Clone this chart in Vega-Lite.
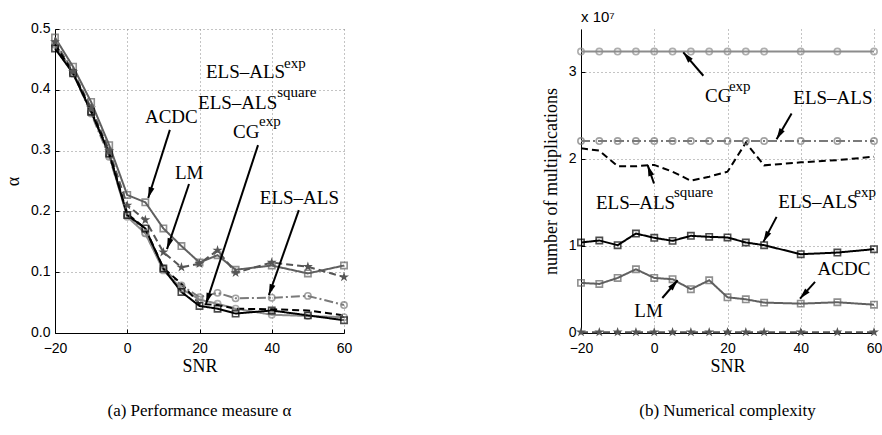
{
  "$schema": "https://vega.github.io/schema/vega-lite/v6.json",
  "padding": {"left": 4, "top": 10, "right": 5, "bottom": 5},
  "background": "white",
  "config": {
    "view": {"stroke": null},
    "axis": {
      "labelFont": "Liberation Sans", "labelFontSize": 14, "labelColor": "black", "labelFlush": false,
      "titleFont": "Liberation Serif", "titleFontSize": 18, "titleFontWeight": "normal", "titleColor": "black",
      "domainColor": "black", "domainWidth": 1,
      "ticks": true, "tickSize": -4, "tickColor": "black", "labelPadding": 9,
      "gridColor": "#888888", "gridDash": [1, 3], "gridWidth": 1, "gridOpacity": 1
    },
    "axisX": {"labelPadding": 12},
    "axisY": {"labelOffset": -1},
    "title": {"font": "Liberation Serif", "fontSize": 17, "fontWeight": "normal", "color": "black"}
  },
  "datasets": {
    "alpha": [
      {"series": "ACDC", "snr": -20, "val": 0.486}, {"series": "ACDC", "snr": -15, "val": 0.438}, {"series": "ACDC", "snr": -10, "val": 0.380}, {"series": "ACDC", "snr": -5, "val": 0.309}, {"series": "ACDC", "snr": 0, "val": 0.227}, {"series": "ACDC", "snr": 5, "val": 0.215}, {"series": "ACDC", "snr": 10, "val": 0.172}, {"series": "ACDC", "snr": 15, "val": 0.143}, {"series": "ACDC", "snr": 20, "val": 0.116}, {"series": "ACDC", "snr": 25, "val": 0.128}, {"series": "ACDC", "snr": 30, "val": 0.104}, {"series": "ACDC", "snr": 40, "val": 0.111}, {"series": "ACDC", "snr": 50, "val": 0.098}, {"series": "ACDC", "snr": 60, "val": 0.111},
      {"series": "LM", "snr": -20, "val": 0.479}, {"series": "LM", "snr": -15, "val": 0.430}, {"series": "LM", "snr": -10, "val": 0.370}, {"series": "LM", "snr": -5, "val": 0.300}, {"series": "LM", "snr": 0, "val": 0.210}, {"series": "LM", "snr": 5, "val": 0.186}, {"series": "LM", "snr": 10, "val": 0.133}, {"series": "LM", "snr": 15, "val": 0.108}, {"series": "LM", "snr": 20, "val": 0.114}, {"series": "LM", "snr": 25, "val": 0.136}, {"series": "LM", "snr": 30, "val": 0.099}, {"series": "LM", "snr": 40, "val": 0.116}, {"series": "LM", "snr": 50, "val": 0.109}, {"series": "LM", "snr": 60, "val": 0.092},
      {"series": "ELS-ALS", "snr": -20, "val": 0.476}, {"series": "ELS-ALS", "snr": -15, "val": 0.427}, {"series": "ELS-ALS", "snr": -10, "val": 0.361}, {"series": "ELS-ALS", "snr": -5, "val": 0.290}, {"series": "ELS-ALS", "snr": 0, "val": 0.194}, {"series": "ELS-ALS", "snr": 5, "val": 0.164}, {"series": "ELS-ALS", "snr": 10, "val": 0.106}, {"series": "ELS-ALS", "snr": 15, "val": 0.078}, {"series": "ELS-ALS", "snr": 20, "val": 0.059}, {"series": "ELS-ALS", "snr": 25, "val": 0.066}, {"series": "ELS-ALS", "snr": 30, "val": 0.057}, {"series": "ELS-ALS", "snr": 40, "val": 0.058}, {"series": "ELS-ALS", "snr": 50, "val": 0.061}, {"series": "ELS-ALS", "snr": 60, "val": 0.046},
      {"series": "CG-exp", "snr": -20, "val": 0.474}, {"series": "CG-exp", "snr": -15, "val": 0.427}, {"series": "CG-exp", "snr": -10, "val": 0.364}, {"series": "CG-exp", "snr": -5, "val": 0.293}, {"series": "CG-exp", "snr": 0, "val": 0.191}, {"series": "CG-exp", "snr": 5, "val": 0.164}, {"series": "CG-exp", "snr": 10, "val": 0.103}, {"series": "CG-exp", "snr": 15, "val": 0.073}, {"series": "CG-exp", "snr": 20, "val": 0.055}, {"series": "CG-exp", "snr": 25, "val": 0.048}, {"series": "CG-exp", "snr": 30, "val": 0.040}, {"series": "CG-exp", "snr": 40, "val": 0.030}, {"series": "CG-exp", "snr": 50, "val": 0.028}, {"series": "CG-exp", "snr": 60, "val": 0.026},
      {"series": "ELS-ALS-square", "snr": -20, "val": 0.475}, {"series": "ELS-ALS-square", "snr": -15, "val": 0.428}, {"series": "ELS-ALS-square", "snr": -10, "val": 0.366}, {"series": "ELS-ALS-square", "snr": -5, "val": 0.296}, {"series": "ELS-ALS-square", "snr": 0, "val": 0.196}, {"series": "ELS-ALS-square", "snr": 5, "val": 0.172}, {"series": "ELS-ALS-square", "snr": 10, "val": 0.107}, {"series": "ELS-ALS-square", "snr": 15, "val": 0.081}, {"series": "ELS-ALS-square", "snr": 20, "val": 0.048}, {"series": "ELS-ALS-square", "snr": 25, "val": 0.046}, {"series": "ELS-ALS-square", "snr": 30, "val": 0.040}, {"series": "ELS-ALS-square", "snr": 40, "val": 0.039}, {"series": "ELS-ALS-square", "snr": 50, "val": 0.037}, {"series": "ELS-ALS-square", "snr": 60, "val": 0.029},
      {"series": "ELS-ALS-exp", "snr": -20, "val": 0.468}, {"series": "ELS-ALS-exp", "snr": -15, "val": 0.427}, {"series": "ELS-ALS-exp", "snr": -10, "val": 0.364}, {"series": "ELS-ALS-exp", "snr": -5, "val": 0.295}, {"series": "ELS-ALS-exp", "snr": 0, "val": 0.194}, {"series": "ELS-ALS-exp", "snr": 5, "val": 0.172}, {"series": "ELS-ALS-exp", "snr": 10, "val": 0.106}, {"series": "ELS-ALS-exp", "snr": 15, "val": 0.0675}, {"series": "ELS-ALS-exp", "snr": 20, "val": 0.0445}, {"series": "ELS-ALS-exp", "snr": 25, "val": 0.040}, {"series": "ELS-ALS-exp", "snr": 30, "val": 0.032}, {"series": "ELS-ALS-exp", "snr": 40, "val": 0.037}, {"series": "ELS-ALS-exp", "snr": 50, "val": 0.029}, {"series": "ELS-ALS-exp", "snr": 60, "val": 0.021}
    ],
    "mult": [
      {"series": "CG-exp", "snr": -20, "val": 32400000}, {"series": "CG-exp", "snr": -15, "val": 32400000}, {"series": "CG-exp", "snr": -10, "val": 32400000}, {"series": "CG-exp", "snr": -5, "val": 32400000}, {"series": "CG-exp", "snr": 0, "val": 32400000}, {"series": "CG-exp", "snr": 5, "val": 32400000}, {"series": "CG-exp", "snr": 10, "val": 32400000}, {"series": "CG-exp", "snr": 15, "val": 32400000}, {"series": "CG-exp", "snr": 20, "val": 32400000}, {"series": "CG-exp", "snr": 25, "val": 32400000}, {"series": "CG-exp", "snr": 30, "val": 32400000}, {"series": "CG-exp", "snr": 40, "val": 32400000}, {"series": "CG-exp", "snr": 50, "val": 32400000}, {"series": "CG-exp", "snr": 60, "val": 32400000},
      {"series": "ELS-ALS", "snr": -20, "val": 22100000}, {"series": "ELS-ALS", "snr": -15, "val": 22100000}, {"series": "ELS-ALS", "snr": -10, "val": 22100000}, {"series": "ELS-ALS", "snr": -5, "val": 22100000}, {"series": "ELS-ALS", "snr": 0, "val": 22100000}, {"series": "ELS-ALS", "snr": 5, "val": 22100000}, {"series": "ELS-ALS", "snr": 10, "val": 22100000}, {"series": "ELS-ALS", "snr": 15, "val": 22100000}, {"series": "ELS-ALS", "snr": 20, "val": 22100000}, {"series": "ELS-ALS", "snr": 25, "val": 22100000}, {"series": "ELS-ALS", "snr": 30, "val": 22100000}, {"series": "ELS-ALS", "snr": 40, "val": 22100000}, {"series": "ELS-ALS", "snr": 50, "val": 22100000}, {"series": "ELS-ALS", "snr": 60, "val": 22100000},
      {"series": "ELS-ALS-square", "snr": -20, "val": 21260000}, {"series": "ELS-ALS-square", "snr": -15, "val": 21000000}, {"series": "ELS-ALS-square", "snr": -10, "val": 19200000}, {"series": "ELS-ALS-square", "snr": -5, "val": 19200000}, {"series": "ELS-ALS-square", "snr": 0, "val": 19350000}, {"series": "ELS-ALS-square", "snr": 5, "val": 18570000}, {"series": "ELS-ALS-square", "snr": 10, "val": 17530000}, {"series": "ELS-ALS-square", "snr": 15, "val": 18000000}, {"series": "ELS-ALS-square", "snr": 20, "val": 18570000}, {"series": "ELS-ALS-square", "snr": 25, "val": 21900000}, {"series": "ELS-ALS-square", "snr": 30, "val": 19300000}, {"series": "ELS-ALS-square", "snr": 40, "val": 19650000}, {"series": "ELS-ALS-square", "snr": 50, "val": 19900000}, {"series": "ELS-ALS-square", "snr": 60, "val": 20300000},
      {"series": "ELS-ALS-exp", "snr": -20, "val": 10420000}, {"series": "ELS-ALS-exp", "snr": -15, "val": 10650000}, {"series": "ELS-ALS-exp", "snr": -10, "val": 10110000}, {"series": "ELS-ALS-exp", "snr": -5, "val": 11450000}, {"series": "ELS-ALS-exp", "snr": 0, "val": 10960000}, {"series": "ELS-ALS-exp", "snr": 5, "val": 10610000}, {"series": "ELS-ALS-exp", "snr": 10, "val": 11190000}, {"series": "ELS-ALS-exp", "snr": 15, "val": 11070000}, {"series": "ELS-ALS-exp", "snr": 20, "val": 11000000}, {"series": "ELS-ALS-exp", "snr": 25, "val": 10420000}, {"series": "ELS-ALS-exp", "snr": 30, "val": 10110000}, {"series": "ELS-ALS-exp", "snr": 40, "val": 9070000}, {"series": "ELS-ALS-exp", "snr": 50, "val": 9260000}, {"series": "ELS-ALS-exp", "snr": 60, "val": 9650000},
      {"series": "ACDC", "snr": -20, "val": 5770000}, {"series": "ACDC", "snr": -15, "val": 5650000}, {"series": "ACDC", "snr": -10, "val": 6340000}, {"series": "ACDC", "snr": -5, "val": 7340000}, {"series": "ACDC", "snr": 0, "val": 6340000}, {"series": "ACDC", "snr": 5, "val": 6190000}, {"series": "ACDC", "snr": 10, "val": 5040000}, {"series": "ACDC", "snr": 15, "val": 6070000}, {"series": "ACDC", "snr": 20, "val": 4110000}, {"series": "ACDC", "snr": 25, "val": 3880000}, {"series": "ACDC", "snr": 30, "val": 3500000}, {"series": "ACDC", "snr": 40, "val": 3380000}, {"series": "ACDC", "snr": 50, "val": 3540000}, {"series": "ACDC", "snr": 60, "val": 3260000},
      {"series": "LM", "snr": -20, "val": 100000}, {"series": "LM", "snr": -15, "val": 100000}, {"series": "LM", "snr": -10, "val": 100000}, {"series": "LM", "snr": -5, "val": 100000}, {"series": "LM", "snr": 0, "val": 100000}, {"series": "LM", "snr": 5, "val": 100000}, {"series": "LM", "snr": 10, "val": 100000}, {"series": "LM", "snr": 15, "val": 100000}, {"series": "LM", "snr": 20, "val": 100000}, {"series": "LM", "snr": 25, "val": 100000}, {"series": "LM", "snr": 30, "val": 100000}, {"series": "LM", "snr": 40, "val": 100000}, {"series": "LM", "snr": 50, "val": 100000}, {"series": "LM", "snr": 60, "val": 100000}
    ],
    "alphaLabels": [
      {"snr": 21.8, "val": 0.419, "text": "ELS–ALS"},
      {"snr": 19.6, "val": 0.369, "text": "ELS–ALS"},
      {"snr": 4.9, "val": 0.345, "text": "ACDC"},
      {"snr": 29.3, "val": 0.320, "text": "CG"},
      {"snr": 13.2, "val": 0.253, "text": "LM"},
      {"snr": 36.7, "val": 0.212, "text": "ELS–ALS"}
    ],
    "alphaSups": [
      {"snr": 43.4, "val": 0.436, "text": "exp"},
      {"snr": 41.5, "val": 0.388, "text": "square"},
      {"snr": 36.5, "val": 0.340, "text": "exp"}
    ],
    "alphaArrows": [
      {"snr": 5.8, "val": 0.222, "snr2": 11.8, "val2": 0.334},
      {"snr": 11.0, "val": 0.138, "snr2": 17.1, "val2": 0.245},
      {"snr": 21.8, "val": 0.048, "snr2": 36.2, "val2": 0.309},
      {"snr": 39.2, "val": 0.0625, "snr2": 47.5, "val2": 0.202}
    ],
    "multLabels": [
      {"snr": 13.85, "val": 26550000, "text": "CG"},
      {"snr": 37.96, "val": 26320000, "text": "ELS–ALS"},
      {"snr": -15.9, "val": 14250000, "text": "ELS–ALS"},
      {"snr": 33.87, "val": 14410000, "text": "ELS–ALS"},
      {"snr": 44.6, "val": 6650000, "text": "ACDC"},
      {"snr": -5.44, "val": 1840000, "text": "LM"}
    ],
    "multSups": [
      {"snr": 20.4, "val": 27850000, "text": "exp"},
      {"snr": 5.39, "val": 15670000, "text": "square"},
      {"snr": 54.6, "val": 15670000, "text": "exp"}
    ],
    "multExp": [
      {"snr": -20, "val": 35800000, "text": "x 10⁷"}
    ],
    "multArrows": [
      {"snr": 7.93, "val": 32310000, "snr2": 13.4, "val2": 29620000},
      {"snr": 33.4, "val": 22320000, "snr2": 37.5, "val2": 25280000},
      {"snr": -1.8, "val": 19320000, "snr2": -0.07, "val2": 17210000},
      {"snr": 29.8, "val": 10490000, "snr2": 33.4, "val2": 13370000},
      {"snr": 39.8, "val": 3960000, "snr2": 43.9, "val2": 5880000},
      {"snr": 6.39, "val": 6070000, "snr2": 2.2, "val2": 4030000}
    ]
  },
  "hconcat": [
    {
      "width": 289,
      "height": 304,
      "title": {"text": "(a) Performance measure α", "orient": "bottom", "offset": 28},
      "encoding": {
        "x": {"field": "snr", "type": "quantitative", "scale": {"domain": [-20, 60], "nice": false, "zero": false},
              "axis": {"values": [-20, 0, 20, 40, 60], "title": "SNR", "titlePadding": 2}},
        "y": {"field": "val", "type": "quantitative", "scale": {"domain": [0, 0.5], "nice": false},
              "axis": {"values": [0, 0.1, 0.2, 0.3, 0.4, 0.5], "title": "α", "titlePadding": 8}}
      },
      "layer": [
        {
          "data": {"name": "alpha"},
          "mark": {"type": "line", "strokeWidth": 2},
          "encoding": {
            "color": {"field": "series", "type": "nominal", "legend": null,
                      "scale": {"domain": ["ACDC", "LM", "ELS-ALS", "CG-exp", "ELS-ALS-square", "ELS-ALS-exp"],
                                "range": ["#606060", "#555555", "#7a7a7a", "#8c8c8c", "#000000", "#000000"]}},
            "strokeDash": {"field": "series", "type": "nominal", "legend": null,
                      "scale": {"domain": ["ACDC", "LM", "ELS-ALS", "CG-exp", "ELS-ALS-square", "ELS-ALS-exp"],
                                "range": [[1, 0], [7, 4], [9, 3, 2, 3], [1, 0], [7, 4], [1, 0]]}}
          }
        },
        {
          "data": {"name": "alpha"},
          "transform": [{"filter": "datum.series !== 'LM' && datum.series !== 'ELS-ALS-square'"}],
          "mark": {"type": "point", "filled": false, "strokeWidth": 1.6, "size": 40},
          "encoding": {
            "color": {"field": "series", "type": "nominal", "legend": null},
            "shape": {"field": "series", "type": "nominal", "legend": null,
                      "scale": {"domain": ["ACDC", "ELS-ALS", "CG-exp", "ELS-ALS-exp"],
                                "range": ["square", "circle", "circle", "square"]}}
          }
        },
        {
          "data": {"name": "alpha"},
          "transform": [{"filter": "datum.series === 'LM'"}],
          "mark": {"type": "point", "filled": true, "color": "#555555", "size": 110, "opacity": 1,
                   "shape": "M0,-1L0.225,-0.309L0.951,-0.309L0.363,0.118L0.588,0.809L0,0.382L-0.588,0.809L-0.363,0.118L-0.951,-0.309L-0.225,-0.309Z"}
        },
        {
          "data": {"name": "alphaArrows"},
          "mark": {"type": "rule", "color": "black", "strokeWidth": 2},
          "encoding": {
            "x2": {"field": "snr2"},
            "y2": {"field": "val2"}
          }
        },
        {
          "data": {"name": "alphaArrows"},
          "transform": [{"calculate": "atan2((datum.snr - datum.snr2) * 3.6125, (datum.val - datum.val2) * 608) * 180 / PI", "as": "ang"}],
          "mark": {"type": "point", "filled": true, "color": "black", "opacity": 1, "size": 100,
                   "shape": "M0,0L0.6,2.2L-0.6,2.2Z"},
          "encoding": {"angle": {"field": "ang", "type": "quantitative", "scale": null}}
        },
        {
          "data": {"name": "alphaLabels"},
          "mark": {"type": "text", "font": "Liberation Serif", "fontSize": 19, "align": "left", "baseline": "alphabetic", "color": "black"},
          "encoding": {"text": {"field": "text"}}
        },
        {
          "data": {"name": "alphaSups"},
          "mark": {"type": "text", "font": "Liberation Serif", "fontSize": 15, "align": "left", "baseline": "alphabetic", "color": "black"},
          "encoding": {"text": {"field": "text"}}
        }
      ]
    },
    {
      "width": 293,
      "height": 304,
      "title": {"text": "(b) Numerical complexity", "orient": "bottom", "offset": 28},
      "encoding": {
        "x": {"field": "snr", "type": "quantitative", "scale": {"domain": [-20, 60], "nice": false, "zero": false},
              "axis": {"values": [-20, 0, 20, 40, 60], "title": "SNR", "titlePadding": 2}},
        "y": {"field": "val", "type": "quantitative", "scale": {"domain": [0, 35000000], "nice": false},
              "axis": {"values": [0, 10000000, 20000000, 30000000], "labelExpr": "format(datum.value / 10000000, 'd')", "title": "number of multiplications", "titlePadding": 8}}
      },
      "layer": [
        {
          "data": {"name": "mult"},
          "mark": {"type": "line", "strokeWidth": 2},
          "encoding": {
            "color": {"field": "series", "type": "nominal", "legend": null,
                      "scale": {"domain": ["ACDC", "LM", "ELS-ALS", "CG-exp", "ELS-ALS-square", "ELS-ALS-exp"],
                                "range": ["#606060", "#555555", "#7a7a7a", "#8c8c8c", "#000000", "#000000"]}},
            "strokeDash": {"field": "series", "type": "nominal", "legend": null,
                      "scale": {"domain": ["ACDC", "LM", "ELS-ALS", "CG-exp", "ELS-ALS-square", "ELS-ALS-exp"],
                                "range": [[1, 0], [7, 4], [9, 3, 2, 3], [1, 0], [7, 4], [1, 0]]}}
          }
        },
        {
          "data": {"name": "mult"},
          "transform": [{"filter": "datum.series !== 'LM' && datum.series !== 'ELS-ALS-square'"}],
          "mark": {"type": "point", "filled": false, "strokeWidth": 1.6, "size": 40},
          "encoding": {
            "color": {"field": "series", "type": "nominal", "legend": null},
            "shape": {"field": "series", "type": "nominal", "legend": null,
                      "scale": {"domain": ["ACDC", "ELS-ALS", "CG-exp", "ELS-ALS-exp"],
                                "range": ["square", "circle", "circle", "square"]}}
          }
        },
        {
          "data": {"name": "mult"},
          "transform": [{"filter": "datum.series === 'LM'"}],
          "mark": {"type": "point", "filled": true, "color": "#555555", "size": 110, "opacity": 1,
                   "shape": "M0,-1L0.225,-0.309L0.951,-0.309L0.363,0.118L0.588,0.809L0,0.382L-0.588,0.809L-0.363,0.118L-0.951,-0.309L-0.225,-0.309Z"}
        },
        {
          "data": {"name": "multArrows"},
          "mark": {"type": "rule", "color": "black", "strokeWidth": 2},
          "encoding": {
            "x2": {"field": "snr2"},
            "y2": {"field": "val2"}
          }
        },
        {
          "data": {"name": "multArrows"},
          "transform": [{"calculate": "atan2((datum.snr - datum.snr2) * 3.6625, (datum.val - datum.val2) * 304 / 35000000) * 180 / PI", "as": "ang"}],
          "mark": {"type": "point", "filled": true, "color": "black", "opacity": 1, "size": 100,
                   "shape": "M0,0L0.6,2.2L-0.6,2.2Z"},
          "encoding": {"angle": {"field": "ang", "type": "quantitative", "scale": null}}
        },
        {
          "data": {"name": "multLabels"},
          "mark": {"type": "text", "font": "Liberation Serif", "fontSize": 19, "align": "left", "baseline": "alphabetic", "color": "black"},
          "encoding": {"text": {"field": "text"}}
        },
        {
          "data": {"name": "multSups"},
          "mark": {"type": "text", "font": "Liberation Serif", "fontSize": 15, "align": "left", "baseline": "alphabetic", "color": "black"},
          "encoding": {"text": {"field": "text"}}
        },
        {
          "data": {"name": "multExp"},
          "mark": {"type": "text", "font": "Liberation Sans", "fontSize": 15, "align": "left", "baseline": "alphabetic", "color": "black"},
          "encoding": {"text": {"field": "text"}}
        }
      ]
    }
  ],
  "bounds": "flush",
  "spacing": 237
}
